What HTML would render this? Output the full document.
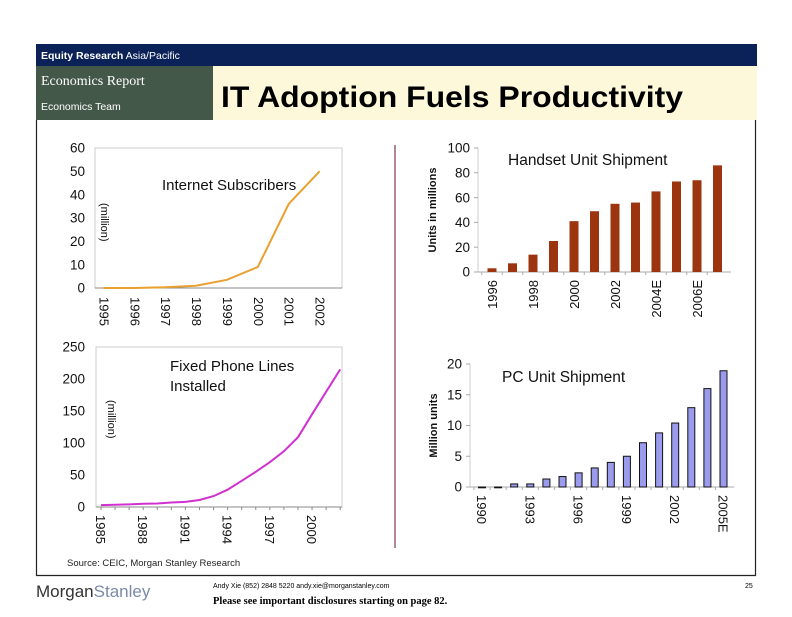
<!DOCTYPE html>
<html><head><meta charset="utf-8"><style>
body{margin:0;background:#fff;width:792px;height:612px;overflow:hidden;font-family:"Liberation Sans",sans-serif}
svg text{font-family:"Liberation Sans",sans-serif}
</style></head><body>
<svg id="pg" width="792" height="612" xmlns="http://www.w3.org/2000/svg">
<rect x="36" y="44" width="721" height="22" fill="#0b2258"/>
<text x="41" y="59" font-size="10.5" fill="#fff"><tspan font-weight="bold">Equity Research</tspan> Asia/Pacific</text>
<rect x="36" y="66" width="177" height="54" fill="#44584a"/>
<text x="41" y="85" font-size="14" fill="#fff" style="font-family:'Liberation Serif',serif">Economics Report</text>
<text x="41" y="110" font-size="10.5" fill="#fff">Economics Team</text>
<rect x="213" y="66" width="544" height="54" fill="#fdf8d9"/>
<text x="221" y="107" font-size="30" font-weight="bold" fill="#000" textLength="462" lengthAdjust="spacingAndGlyphs">IT Adoption Fuels Productivity</text>
<path d="M36.5 120 V575.5 H755.5 V120" fill="none" stroke="#222" stroke-width="1.2"/>
<line x1="395" y1="145" x2="395" y2="548" stroke="#7a3a4a" stroke-width="1.2"/>
<g id="c1"></g>
<g id="c2"></g>
<g id="c3"></g>
<g id="c4"></g>
<text x="67" y="566" font-size="9.5" fill="#222">Source: CEIC, Morgan Stanley Research</text>
<text x="36" y="597" font-size="17" fill="#333">Morgan<tspan fill="#7a8aa8">Stanley</tspan></text>
<text x="213" y="588" font-size="7" fill="#000">Andy Xie (852) 2848 5220  andy.xie@morganstanley.com</text>
<text x="213" y="604" font-size="10.5" font-weight="bold" fill="#000" style="font-family:'Liberation Serif',serif">Please see important disclosures starting on page 82.</text>
<text x="745" y="588" font-size="7" fill="#000">25</text>
</svg>
<script>
const netYears=["1995","1996","1997","1998","1999","2000","2001","2002"];
const netValues=[0,0,0.3,1,3.5,9,36,50];
const netTicks=[0,10,20,30,40,50,60];
const phoneYears=[1985,1986,1987,1988,1989,1990,1991,1992,1993,1994,1995,1996,1997,1998,1999,2000,2001,2002];
const phoneValues=[3,3.5,4,5,5.5,7,8,11,17,27,41,55,70,87,109,145,180,215];
const phoneLabels=["1985","1988","1991","1994","1997","2000"];
const phoneTicks=[0,50,100,150,200,250];
const handsetYears=["1996","1997","1998","1999","2000","2001","2002","2003","2004E","2005E","2006E","2007E"];
const handsetValues=[3,7,14,25,41,49,55,56,65,73,74,86];
const handsetTicks=[0,20,40,60,80,100];
const pcYears=["1990","1991","1992","1993","1994","1995","1996","1997","1998","1999","2000","2001","2002","2003","2004E","2005E"];
const pcValues=[0,0,0.5,0.5,1.3,1.7,2.3,3.1,4,5,7.2,8.8,10.4,12.9,16,18.9];
const pcTicks=[0,5,10,15,20];

const NS="http://www.w3.org/2000/svg";
function mk(p,t,a,txt){const e=document.createElementNS(NS,t);for(const k in a)e.setAttribute(k,a[k]);if(txt!==undefined)e.textContent=txt;p.appendChild(e);return e;}

function yTicks(g,ticks,y,x0,fs,nm){ticks.forEach(v=>{const t=mk(g,'text',{x:x0,y:y(v)+fs*0.35,'font-size':fs,'text-anchor':'end',fill:'#111'},String(v));

});}
function rotLabel(g,x,y,txt,fs,dir,nm,bold){const t=mk(g,'text',{x:0,y:0,'font-size':fs,fill:'#111','text-anchor':dir>0?'start':'end',transform:`translate(${x},${y}) rotate(${dir>0?90:-90})`},txt);if(bold)t.setAttribute('font-weight','bold');

return t;}

// Chart 1 internet
(function(){const g=document.getElementById('c1');const L=95,R=342,T=148,B=288;
const y=v=>B-(v/60)*(B-T);const cw=(R-L)/8;const x=i=>L+cw*(i+0.5)-7;
mk(g,'rect',{x:L,y:T,width:R-L,height:B-T,fill:'#fff',stroke:'#ccc'});
mk(g,'line',{x1:L,y1:B,x2:R,y2:B,stroke:'#888'});
yTicks(g,netTicks,y,85,13.5,'internet');
netYears.forEach((s,i)=>{rotLabel(g,L+cw*(i+0.5)-11,B+9,s,13,1,'internet-x-label-'+s);});
const pts=netValues.map((v,i)=>x(i).toFixed(1)+','+y(v).toFixed(1)).join(' ');
const pl=mk(g,'polyline',{points:pts,fill:'none',stroke:'#e8a030','stroke-width':2});


const t=mk(g,'text',{x:162,y:190,'font-size':15,fill:'#111'},'Internet Subscribers');


rotLabel(g,101,203,'(million)',11,1,'internet-unit-label');
})();

// Chart 2 phones
(function(){const g=document.getElementById('c2');const L=96,R=342,T=347,B=507;
const y=v=>B-(v/250)*(B-T);const x=yr=>101+(yr-1985)*14.07;
mk(g,'rect',{x:L,y:T,width:R-L,height:B-T,fill:'#fff',stroke:'#ccc'});
mk(g,'line',{x1:L,y1:B,x2:R,y2:B,stroke:'#888'});
phoneYears.forEach(yr=>mk(g,'line',{x1:x(yr),y1:B,x2:x(yr),y2:B+3,stroke:'#888'}));
yTicks(g,phoneTicks,y,85,13.5,'phone');
phoneLabels.forEach(s=>{rotLabel(g,x(+s)-5,B+8,s,13,1,'phone-x-label-'+s);});
const pts=phoneValues.map((v,i)=>x(phoneYears[i]).toFixed(1)+','+y(v).toFixed(1)).join(' ');
const pl=mk(g,'polyline',{points:pts,fill:'none',stroke:'#d030d0','stroke-width':2});


const t=mk(g,'text',{x:170,y:371,'font-size':15,fill:'#111'});t.innerHTML='<tspan x="170">Fixed Phone Lines</tspan><tspan x="170" dy="20">Installed</tspan>';


rotLabel(g,108,400,'(million)',11,1,'phone-unit-label');
})();

function bars(id,cats,vals,ticks,max,L,R,T,B,x0,dx,bw,fill,stroke,title,tx,ty,ylab,ylx,labEvery,labStart,nm,labFs){
const g=document.getElementById(id);const y=v=>B-(v/max)*(B-T);const x=i=>x0+i*dx;
mk(g,'line',{x1:L,y1:T,x2:L,y2:B,stroke:'#ccc'});
mk(g,'line',{x1:L,y1:B,x2:R,y2:B,stroke:'#aaa'});
ticks.forEach(v=>mk(g,'line',{x1:L-4,y1:y(v),x2:L,y2:y(v),stroke:'#aaa'}));
cats.forEach((c,i)=>mk(g,'line',{x1:x(i)-dx/2,y1:B,x2:x(i)-dx/2,y2:B+3,stroke:'#aaa'}));
yTicks(g,ticks,y,L-8,13.5,nm);
vals.forEach((v,i)=>{const r=mk(g,'rect',{x:x(i)-bw/2,y:y(v),width:bw,height:Math.max(B-y(v),0.8),fill:fill,stroke:stroke,'stroke-width':stroke==='none'?0:1});

});
cats.forEach((c,i)=>{if(i>=labStart&&(i-labStart)%labEvery===0){
if(id==='c3'){const t=rotLabel(g,x(i)+5,B+8,c,labFs,-1,nm+'-x-label-'+c);t.setAttribute('text-anchor','end');}
else rotLabel(g,x(i)-5,B+8,c,labFs,1,nm+'-x-label-'+c);}});
const t=mk(g,'text',{x:tx,y:ty,'font-size':15.5,fill:'#111'},title);


const yl=rotLabel(g,ylx,(T+B)/2,ylab,11,-1,nm+'-y-axis-title',true);yl.setAttribute('text-anchor','middle');
}
bars('c3',handsetYears,handsetValues,handsetTicks,100,478,731,148,272,492,20.5,9,'#9c3410','none','Handset Unit Shipment',508,165,'Units in millions',436,2,0,'handset',13);
bars('c4',pcYears,pcValues,pcTicks,20,470,734,364,487,482,16.1,7,'#9b9bee','#111','PC Unit Shipment',502,382,'Million units',437,3,0,'pc',13);
</script>
</body></html>
